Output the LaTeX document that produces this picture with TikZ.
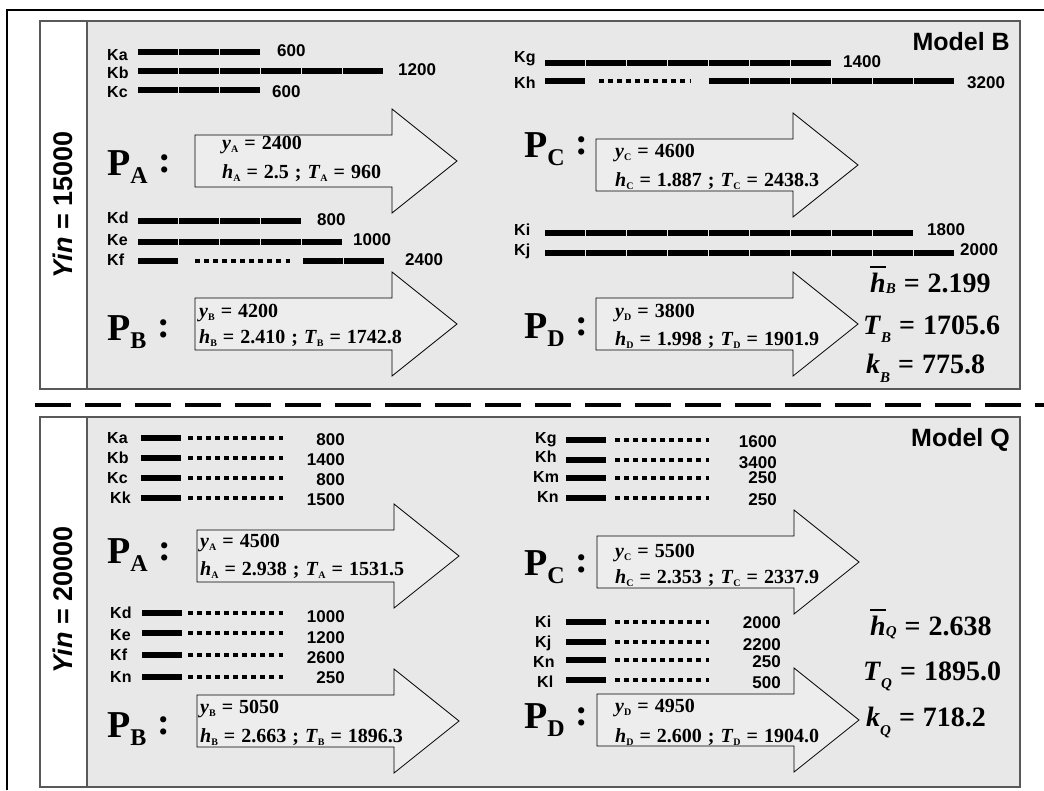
\documentclass[tikz,border=0pt]{standalone}
\usepackage{fontspec}
\setmainfont{Liberation Serif}
\setsansfont{Liberation Sans}

\definecolor{panelgray}{gray}{0.91}
\definecolor{arrowgray}{gray}{0.93}
\definecolor{edgegray}{gray}{0.35}

\tikzset{
  panel/.style={fill=panelgray, draw=edgegray, line width=1.2pt},
  strip/.style={fill=white, draw=edgegray, line width=1.2pt},
  fatarrow/.style={fill=arrowgray, draw=black, line width=0.8pt},
  seg/.style={fill=black},
  dots/.style={line width=4.5pt, dash pattern=on 4.5pt off 4.55pt},
  klab/.style={anchor=base west, inner sep=0pt, font=\sffamily\bfseries\fontsize{16}{16}\selectfont},
  knum/.style={anchor=base west, inner sep=0pt, font=\sffamily\bfseries\fontsize{17}{17}\selectfont},
  knumr/.style={knum, anchor=base east},
  pname/.style={anchor=base west, inner sep=0pt, font=\bfseries\fontsize{38}{38}\selectfont},
  atext/.style={anchor=base west, inner sep=0pt, font=\bfseries\fontsize{20}{20}\selectfont},
  result/.style={anchor=base west, inner sep=0pt, font=\bfseries\fontsize{28}{28}\selectfont},
  model/.style={anchor=base east, inner sep=0pt, font=\sffamily\bfseries\fontsize{25}{25}\selectfont},
  yin/.style={rotate=90, inner sep=0pt, font=\sffamily\bfseries\fontsize{27}{27}\selectfont},
}

% n bar segments of 200 each, starting at x
\newcommand{\segrow}[3]{\foreach \i in {1,...,#3} \fill[seg] ({#1+41*(\i-1)},{#2-3.2}) rectangle ++(40.2,6.4);}
% block arrow: left end of the shaft, centre line
\newcommand{\bigarrow}[2]{\draw[fatarrow] ({#1},{#2-26}) -- ++(197,0) -- ++(0,-26) -- ++(65,52) -- ++(-65,52) -- ++(0,-26) -- ++(-197,0) -- cycle;}
\newcommand{\ssub}[1]{\raisebox{-3pt}{\fontsize{10}{10}\selectfont #1}}
\newcommand{\pn}[1]{P\raisebox{-8pt}{\fontsize{24}{24}\selectfont #1}\hspace{11pt}\raisebox{3pt}{:}}
\newcommand{\hbarsym}{\leavevmode\vbox{\hrule height 1.3pt\kern 5pt\hbox{\textit{h}}}}
\newcommand{\rs}[2][0pt]{\raisebox{#1}{\fontsize{15}{15}\selectfont\textit{#2}}}
\newcommand{\eq}[1][6pt]{\hspace{#1}=\hspace{#1}}
\newcommand{\semi}{\hspace{6pt};\hspace{6pt}}

\begin{document}
\begin{tikzpicture}[x=1pt, y=-1pt]
\useasboundingbox (0,0) rectangle (1044,790);

% outer frame
\draw[line width=2.5pt] (7,790) -- (7,10) -- (1044,10);

% ---------- Model B ----------
\draw[panel] (40,21) rectangle (1020,389);
\draw[strip] (40,21) rectangle (87,389);
\node[yin] (yinB) at (63,205) {\textit{Yin} = 15000};
\node[model] (modelB) at (1010,50) {Model B};

\foreach \nm/\y/\ly/\k/\num/\nx/\ny in {Ka/52/60/3/600/277/56, Kb/71/78/6/1200/398/75, Kc/90/97/3/600/272/97}{
  \node[klab] (B1-\nm) at (107,\ly) {\nm};
  \segrow{138}{\y}{\k}
  \node[knum] (B1-\nm-v) at (\nx,\ny) {\num};
}
\foreach \nm/\y/\ly/\k/\num/\nx/\ny in {Kd/221/223/4/800/317/225, Ke/242/245/5/1000/353/245}{
  \node[klab] (B2-\nm) at (107,\ly) {\nm};
  \segrow{138}{\y}{\k}
  \node[knum] (B2-\nm-v) at (\nx,\ny) {\num};
}
\node[klab] (B2-Kf) at (107,265) {Kf};
\segrow{138}{261}{1}
\draw[dots] (195,261) -- (290,261);
\segrow{303}{261}{2}
\node[knum] (B2-Kf-v) at (405,265) {2400};

\node[klab] (B3-Kg) at (514,62) {Kg};
\segrow{545}{63}{7}
\node[knum] (B3-Kg-v) at (843,67) {1400};
\node[klab] (B3-Kh) at (514,88) {Kh};
\segrow{545}{81}{1}
\draw[dots] (599,81) -- (690,81);
\segrow{709}{81}{6}
\node[knum] (B3-Kh-v) at (967,88) {3200};

\foreach \nm/\y/\ly/\k/\num/\nx in {Ki/233/235/9/1800/927, Kj/253/255/10/2000/960}{
  \node[klab] (B4-\nm) at (514,\ly) {\nm};
  \segrow{545}{\y}{\k}
  \node[knum] (B4-\nm-v) at (\nx,\ly) {\num};
}

\bigarrow{195}{161}
\bigarrow{195}{324}
\bigarrow{596}{165}
\bigarrow{596}{324}

\node[pname] (B-PA) at (107,175) {\pn{A}};
\node[pname] (B-PB) at (107,340) {\pn{B}};
\node[pname] (B-PC) at (524,157) {\pn{C}};
\node[pname] (B-PD) at (524,338) {\pn{D}};

\node[atext] (B-yA) at (222,149) {\textit{y}\ssub{A}\eq 2400};
\node[atext] (B-hA) at (222,178) {\textit{h}\ssub{A}\eq 2.5\semi\textit{T}\ssub{A}\eq 960};
\node[atext] (B-yB) at (199,317) {\textit{y}\ssub{B}\eq 4200};
\node[atext] (B-hB) at (199,343) {\textit{h}\ssub{B}\eq 2.410\semi\textit{T}\ssub{B}\eq 1742.8};
\node[atext] (B-yC) at (615,157) {\textit{y}\ssub{C}\eq 4600};
\node[atext] (B-hC) at (615,186) {\textit{h}\ssub{C}\eq 1.887\semi\textit{T}\ssub{C}\eq 2438.3};
\node[atext] (B-yD) at (615,317) {\textit{y}\ssub{D}\eq 3800};
\node[atext] (B-hD) at (615,345) {\textit{h}\ssub{D}\eq 1.998\semi\textit{T}\ssub{D}\eq 1901.9};

\node[result] (B-h) at (870,292) {\hbarsym\rs[-1pt]{B}\eq[8pt]2.199};
\node[result] (B-T) at (863,334) {\textit{T}\rs[-8pt]{B}\eq[8pt]1705.6};
\node[result] (B-k) at (866,373) {\textit{k}\rs[-9pt]{B}\eq[8pt]775.8};

% dashed separator
\draw[line width=4pt, dash pattern=on 36pt off 14pt] (35,405) -- (1044,405);

% ---------- Model Q ----------
\draw[panel] (40,417) rectangle (1020,787);
\draw[strip] (40,417) rectangle (87,787);
\node[yin] (yinQ) at (63,600) {\textit{Yin} = 20000};
\node[model] (modelQ) at (1010,446) {Model Q};

\foreach \nm/\lx/\y/\ly/\num/\ny in {Ka/107/438/443/800/445, Kb/107/458/463/1400/465, Kc/107/478/483/800/485, Kk/110/498/503/1500/505}{
  \node[klab] (Q1-\nm) at (\lx,\ly) {\nm};
  \fill[seg] (141,{\y-3.2}) rectangle (181,{\y+3.2});
  \draw[dots] (188,\y) -- (283,\y);
  \node[knumr] (Q1-\nm-v) at (345,\ny) {\num};
}
\foreach \nm/\lx/\y/\ly/\num/\ny in {Kd/110/613/618/1000/622, Ke/110/633/640/1200/643, Kf/110/655/660/2600/663, Kn/110/677/682/250/683}{
  \node[klab] (Q2-\nm) at (\lx,\ly) {\nm};
  \fill[seg] (142,{\y-3.2}) rectangle (182,{\y+3.2});
  \draw[dots] (188,\y) -- (283,\y);
  \node[knumr] (Q2-\nm-v) at (345,\ny) {\num};
}
\foreach \nm/\lx/\y/\ly/\num/\ny in {Kg/535/440/443/1600/447, Kh/535/460/462/3400/468, Km/533/478/482/250/483, Kn/537/498/502/250/505}{
  \node[klab] (Q3-\nm) at (\lx,\ly) {\nm};
  \fill[seg] (566,{\y-3.2}) rectangle (606,{\y+3.2});
  \draw[dots] (615,\y) -- (709,\y);
  \node[knumr] (Q3-\nm-v) at (777,\ny) {\num};
}
\foreach \nm/\lx/\y/\ly/\num/\ny in {Ki/535/622/627/2000/628, Kj/535/642/647/2200/650, Kn/533/660/667/250/667, Kl/537/680/687/500/688}{
  \node[klab] (Q4-\nm) at (\lx,\ly) {\nm};
  \fill[seg] (566,{\y-3.2}) rectangle (606,{\y+3.2});
  \draw[dots] (615,\y) -- (709,\y);
  \node[knumr] (Q4-\nm-v) at (781,\ny) {\num};
}

\bigarrow{197}{556}
\bigarrow{197}{721}
\bigarrow{597}{562}
\bigarrow{597}{720}

\node[pname] (Q-PA) at (107,563) {\pn{A}};
\node[pname] (Q-PB) at (107,737) {\pn{B}};
\node[pname] (Q-PC) at (524,575) {\pn{C}};
\node[pname] (Q-PD) at (524,728) {\pn{D}};

\node[atext] (Q-yA) at (200,547) {\textit{y}\ssub{A}\eq 4500};
\node[atext] (Q-hA) at (200,575) {\textit{h}\ssub{A}\eq 2.938\semi\textit{T}\ssub{A}\eq 1531.5};
\node[atext] (Q-yB) at (200,713) {\textit{y}\ssub{B}\eq 5050};
\node[atext] (Q-hB) at (200,742) {\textit{h}\ssub{B}\eq 2.663\semi\textit{T}\ssub{B}\eq 1896.3};
\node[atext] (Q-yC) at (615,557) {\textit{y}\ssub{C}\eq 5500};
\node[atext] (Q-hC) at (615,583) {\textit{h}\ssub{C}\eq 2.353\semi\textit{T}\ssub{C}\eq 2337.9};
\node[atext] (Q-yD) at (615,712) {\textit{y}\ssub{D}\eq 4950};
\node[atext] (Q-hD) at (615,742) {\textit{h}\ssub{D}\eq 2.600\semi\textit{T}\ssub{D}\eq 1904.0};

\node[result] (Q-h) at (870,635) {\hbarsym\rs[-1pt]{Q}\eq[8pt]2.638};
\node[result] (Q-T) at (863,680) {\textit{T}\rs[-8pt]{Q}\eq[8pt]1895.0};
\node[result] (Q-k) at (866,726) {\textit{k}\rs[-9pt]{Q}\eq[8pt]718.2};
\end{tikzpicture}
\end{document}
